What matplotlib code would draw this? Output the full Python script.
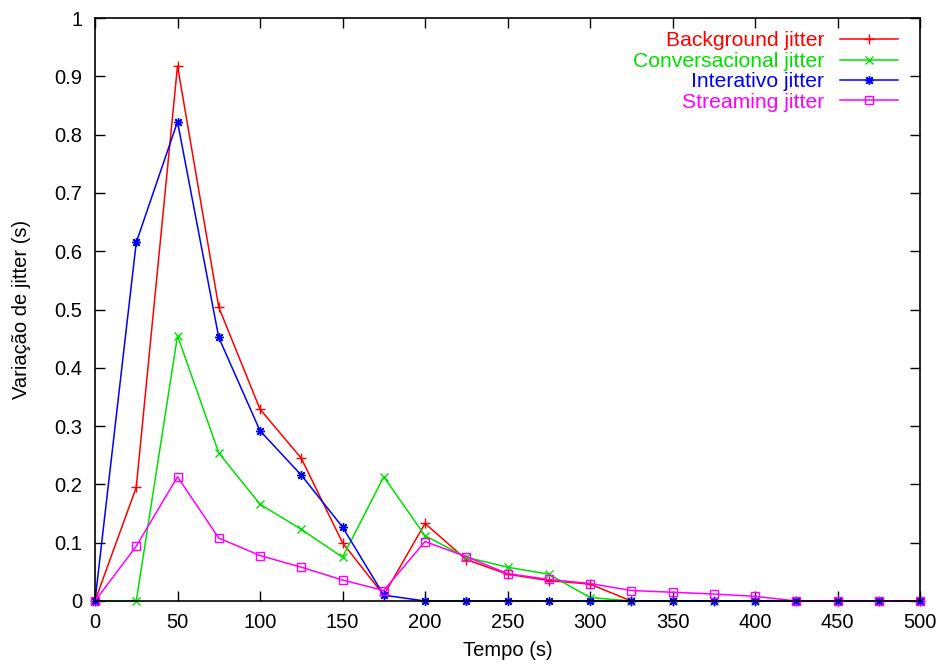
import matplotlib
matplotlib.use("Agg")
import matplotlib.pyplot as plt

# Tempo (s)
tempo = [0, 25, 50, 75, 100, 125, 150, 175, 200, 225, 250, 275, 300,
         325, 350, 375, 400, 425, 450, 475, 500]

background = [0.0, 0.195, 0.918, 0.504, 0.329, 0.245, 0.100, 0.010, 0.133,
              0.071, 0.046, 0.035, 0.029, 0.0, 0.0, 0.0, 0.0, 0.0, 0.0, 0.0, 0.0]
conversacional = [0.0, 0.0, 0.455, 0.254, 0.166, 0.123, 0.075, 0.213, 0.112,
                  0.075, 0.058, 0.046, 0.006, 0.0, 0.0, 0.0, 0.0, 0.0, 0.0, 0.0, 0.0]
interativo = [0.0, 0.615, 0.822, 0.452, 0.292, 0.216, 0.127, 0.010, 0.0,
              0.0, 0.0, 0.0, 0.0, 0.0, 0.0, 0.0, 0.0, 0.0, 0.0, 0.0, 0.0]
streaming = [0.0, 0.094, 0.213, 0.108, 0.078, 0.058, 0.036, 0.018, 0.102,
             0.076, 0.047, 0.037, 0.030, 0.018, 0.015, 0.012, 0.008, 0.0, 0.0, 0.0, 0.0]

x_ticks = list(range(0, 501, 50))
y_ticks = [0, 0.1, 0.2, 0.3, 0.4, 0.5, 0.6, 0.7, 0.8, 0.9, 1]
y_tick_labels = ["0", "0.1", "0.2", "0.3", "0.4", "0.5", "0.6", "0.7", "0.8", "0.9", "1"]

plt.rcParams["font.family"] = ["Liberation Sans", "DejaVu Sans"]
plt.rcParams["font.size"] = 14.5

W, H = 946, 671
fig = plt.figure(figsize=(W / 100, H / 100), dpi=100)
ax = fig.add_axes([95 / W, 1 - 601 / H, (920 - 95) / W, (601 - 18) / H])

series = [
    ("Background jitter", background, "#ff0000", "+", dict(markersize=7)),
    ("Conversacional jitter", conversacional, "#00e000", "x", dict(markersize=5.5)),
    ("Interativo jitter", interativo, "#0000ff", (8, 2, 0), dict(markersize=6.5)),
    ("Streaming jitter", streaming, "#ff00ff", "s",
     dict(markersize=5.8, markerfacecolor="none")),
]

for label, values, color, marker, extra in series:
    ax.plot(tempo, values, color=color, marker=marker, linewidth=1.1,
            markeredgewidth=1.0, label=label, clip_on=False, **extra)

ax.set_xlim(0, 500)
ax.set_ylim(0, 1)
ax.set_xticks(x_ticks)
ax.set_yticks(y_ticks)
ax.set_yticklabels(y_tick_labels)
ax.tick_params(direction="in", length=7, width=1, top=True, right=True,
               labelsize=14.5)
ax.tick_params(axis="x", pad=9)
ax.tick_params(axis="y", pad=9)
for spine in ax.spines.values():
    spine.set_linewidth(1.2)

ax.set_xlabel("Tempo (s)", fontsize=14.5, labelpad=6)
ax.set_ylabel("Variação de jitter (s)", fontsize=14.5, labelpad=17)

leg = ax.legend(loc="upper right", frameon=False, markerfirst=False,
                labelcolor="linecolor", handlelength=2.75, handletextpad=0.72,
                borderaxespad=0, borderpad=0.4, labelspacing=0.07,
                fontsize=15.2,
                bbox_to_anchor=((898 + 8) / W, 1 - (31 - 8) / H),
                bbox_transform=fig.transFigure)
for text in leg.get_texts():
    text.set_ha("right")

fig.savefig("out.png", dpi=100)
